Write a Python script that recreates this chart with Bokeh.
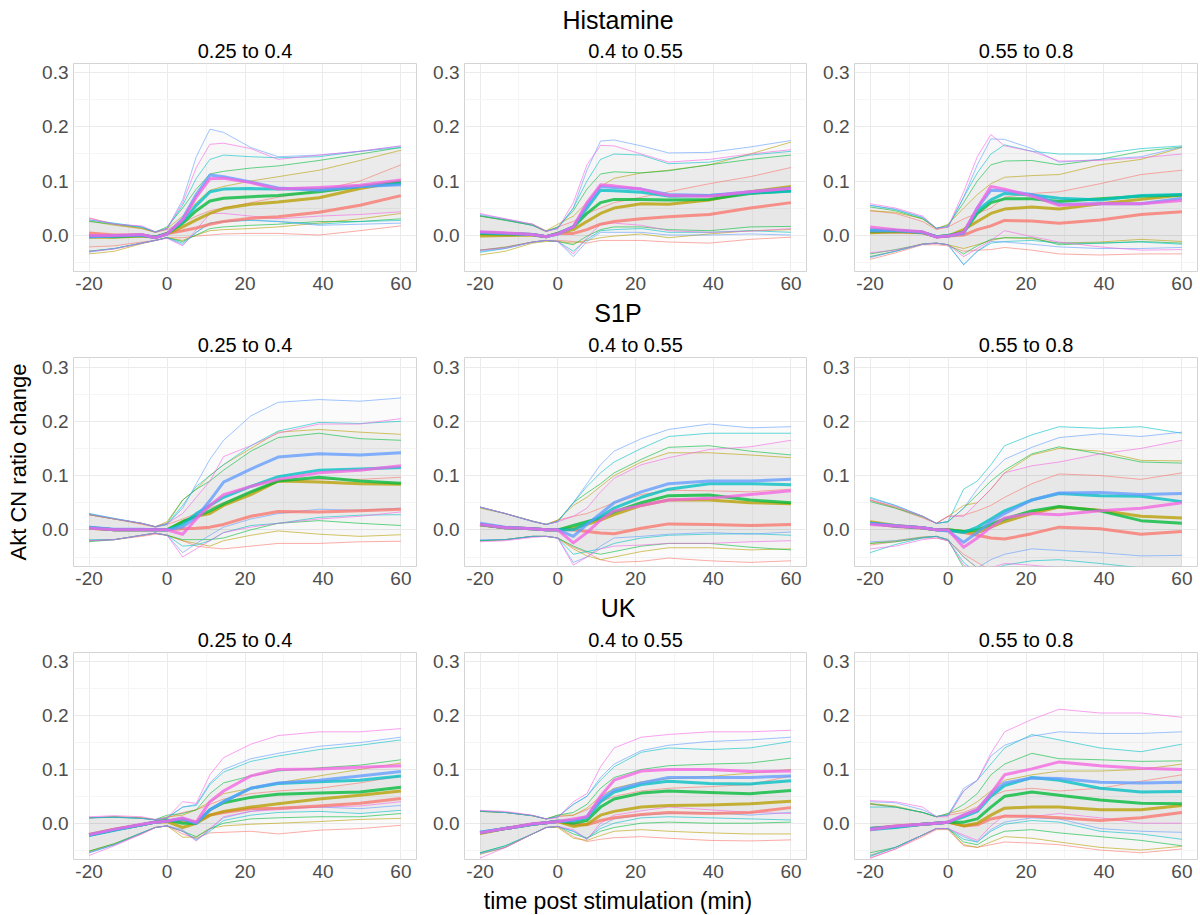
from bokeh.plotting import figure
from bokeh.layouts import column, row
from bokeh.models import Range1d, FixedTicker, NumeralTickFormatter, Div
from bokeh.embed import file_html
from bokeh.resources import INLINE

# ---------------- data ----------------
TIME = [-20, -13.5, -6.5, -3, 0, 4, 7.5, 11, 14.5, 21.5, 28.5, 39, 49.5, 60]
ROW_TITLES = ["Histamine", "S1P", "UK"]
COL_TITLES = ["0.25 to 0.4", "0.4 to 0.55", "0.55 to 0.8"]
X_TICKS = [-20, 0, 20, 40, 60]
X_MINOR = [-10, 10, 30, 50]
Y_TICKS = [0.0, 0.1, 0.2, 0.3]
Y_MINOR = [-0.05, 0.05, 0.15, 0.25]
SERIES = ["red", "olive", "green", "teal", "blue", "pink"]
COLORS = {"red": "#F8766D", "olive": "#B79F00", "green": "#00BA38",
          "teal": "#00BFC4", "blue": "#619CFF", "pink": "#F564E3"}

# Histamine, 0.25 to 0.4
his1_med = dict(
    red=[0.004, 0.000, 0.000, -0.004, 0.003, 0.008, 0.013, 0.020, 0.025, 0.031, 0.034, 0.042, 0.055, 0.073],
    olive=[-0.004, -0.004, -0.002, -0.004, 0.002, 0.015, 0.028, 0.040, 0.049, 0.057, 0.061, 0.069, 0.086, 0.099],
    green=[-0.002, -0.003, -0.001, -0.004, 0.003, 0.022, 0.045, 0.063, 0.068, 0.071, 0.073, 0.080, 0.090, 0.098],
    teal=[-0.003, -0.002, 0.000, -0.004, 0.002, 0.025, 0.055, 0.080, 0.085, 0.086, 0.085, 0.085, 0.090, 0.095],
    blue=[-0.003, -0.002, 0.000, -0.005, 0.002, 0.030, 0.075, 0.111, 0.108, 0.098, 0.087, 0.083, 0.090, 0.093],
    pink=[-0.001, -0.001, 0.001, -0.005, 0.002, 0.028, 0.070, 0.104, 0.105, 0.097, 0.085, 0.088, 0.092, 0.102])
his1_up = dict(
    red=[0.032, 0.020, 0.012, 0.005, 0.010, 0.022, 0.035, 0.045, 0.050, 0.060, 0.070, 0.083, 0.100, 0.130],
    olive=[0.026, 0.018, 0.012, 0.005, 0.012, 0.035, 0.060, 0.083, 0.090, 0.100, 0.108, 0.120, 0.138, 0.157],
    green=[0.025, 0.020, 0.014, 0.006, 0.015, 0.050, 0.085, 0.113, 0.118, 0.124, 0.128, 0.138, 0.150, 0.162],
    teal=[0.028, 0.022, 0.015, 0.006, 0.012, 0.055, 0.105, 0.140, 0.148, 0.145, 0.143, 0.145, 0.155, 0.162],
    blue=[0.028, 0.021, 0.015, 0.005, 0.012, 0.065, 0.145, 0.196, 0.190, 0.162, 0.145, 0.148, 0.155, 0.165],
    pink=[0.031, 0.020, 0.017, 0.006, 0.012, 0.060, 0.125, 0.168, 0.170, 0.160, 0.140, 0.148, 0.155, 0.165])
his1_lo = dict(
    red=[-0.022, -0.020, -0.013, -0.010, -0.005, -0.005, -0.002, 0.000, 0.002, 0.003, 0.003, 0.000, 0.008, 0.017],
    olive=[-0.035, -0.030, -0.016, -0.010, -0.005, -0.010, 0.000, 0.008, 0.010, 0.012, 0.015, 0.022, 0.030, 0.040],
    green=[-0.030, -0.025, -0.015, -0.010, -0.005, -0.012, 0.000, 0.012, 0.015, 0.018, 0.020, 0.025, 0.025, 0.030],
    teal=[-0.030, -0.025, -0.015, -0.010, -0.005, -0.015, 0.005, 0.022, 0.025, 0.027, 0.025, 0.020, 0.025, 0.027],
    blue=[-0.032, -0.025, -0.015, -0.010, -0.005, -0.018, 0.005, 0.022, 0.025, 0.028, 0.025, 0.018, 0.020, 0.022],
    pink=[-0.030, -0.026, -0.015, -0.010, -0.006, -0.020, 0.010, 0.040, 0.040, 0.035, 0.030, 0.035, 0.038, 0.043])

# Histamine, 0.4 to 0.55
his2_med = dict(
    red=[0.003, 0.002, 0.001, -0.003, 0.003, 0.003, 0.010, 0.020, 0.025, 0.030, 0.034, 0.038, 0.050, 0.060],
    olive=[-0.002, -0.001, 0.000, -0.003, 0.003, 0.010, 0.025, 0.040, 0.050, 0.058, 0.057, 0.065, 0.080, 0.090],
    green=[0.003, 0.002, 0.001, -0.003, 0.003, 0.015, 0.040, 0.060, 0.066, 0.066, 0.065, 0.066, 0.077, 0.082],
    teal=[0.004, 0.003, 0.001, -0.003, 0.002, 0.015, 0.050, 0.083, 0.082, 0.079, 0.072, 0.073, 0.078, 0.081],
    blue=[0.005, 0.003, 0.001, -0.003, 0.002, 0.015, 0.055, 0.090, 0.088, 0.085, 0.075, 0.073, 0.080, 0.087],
    pink=[0.006, 0.004, 0.001, -0.003, 0.002, 0.015, 0.060, 0.093, 0.091, 0.085, 0.073, 0.072, 0.080, 0.086])
his2_up = dict(
    red=[0.036, 0.028, 0.018, 0.006, 0.015, 0.025, 0.040, 0.050, 0.060, 0.070, 0.080, 0.095, 0.108, 0.125],
    olive=[0.035, 0.028, 0.020, 0.008, 0.020, 0.035, 0.060, 0.090, 0.105, 0.115, 0.120, 0.130, 0.150, 0.172],
    green=[0.035, 0.027, 0.018, 0.007, 0.015, 0.045, 0.085, 0.113, 0.117, 0.115, 0.119, 0.130, 0.140, 0.148],
    teal=[0.036, 0.028, 0.018, 0.007, 0.013, 0.050, 0.100, 0.140, 0.150, 0.148, 0.132, 0.135, 0.148, 0.155],
    blue=[0.038, 0.030, 0.020, 0.007, 0.012, 0.050, 0.120, 0.174, 0.176, 0.165, 0.152, 0.153, 0.163, 0.175],
    pink=[0.040, 0.030, 0.020, 0.007, 0.012, 0.060, 0.130, 0.166, 0.165, 0.150, 0.135, 0.140, 0.150, 0.158])
his2_lo = dict(
    red=[-0.028, -0.022, -0.013, -0.010, -0.010, -0.012, -0.015, -0.010, -0.010, -0.010, -0.013, -0.015, -0.008, -0.004],
    olive=[-0.037, -0.030, -0.015, -0.012, -0.012, -0.015, -0.010, -0.005, -0.002, 0.002, -0.005, 0.002, 0.008, 0.010],
    green=[-0.028, -0.023, -0.013, -0.010, -0.012, -0.018, -0.002, 0.010, 0.015, 0.015, 0.010, 0.008, 0.015, 0.016],
    teal=[-0.032, -0.025, -0.013, -0.010, -0.012, -0.030, -0.008, 0.008, 0.010, 0.012, 0.005, 0.005, 0.008, 0.005],
    blue=[-0.030, -0.025, -0.013, -0.010, -0.012, -0.040, -0.012, 0.005, 0.005, 0.005, 0.000, 0.000, 0.002, 0.000],
    pink=[-0.028, -0.024, -0.013, -0.010, -0.012, -0.035, -0.005, 0.020, 0.022, 0.018, 0.008, 0.005, 0.007, 0.012])

# Histamine, 0.55 to 0.8
his3_med = dict(
    red=[0.005, 0.006, 0.004, -0.003, -0.002, 0.000, 0.010, 0.017, 0.027, 0.026, 0.022, 0.028, 0.038, 0.043],
    olive=[0.004, 0.006, 0.004, -0.003, -0.002, 0.010, 0.025, 0.040, 0.048, 0.052, 0.048, 0.058, 0.066, 0.074],
    green=[0.007, 0.008, 0.005, -0.003, -0.001, 0.005, 0.040, 0.060, 0.067, 0.067, 0.062, 0.067, 0.072, 0.074],
    teal=[0.010, 0.009, 0.005, -0.003, -0.002, 0.005, 0.045, 0.065, 0.077, 0.074, 0.068, 0.065, 0.073, 0.075],
    blue=[0.008, 0.008, 0.005, -0.003, -0.002, 0.003, 0.050, 0.083, 0.082, 0.075, 0.057, 0.058, 0.058, 0.068],
    pink=[0.015, 0.010, 0.006, -0.004, -0.002, 0.005, 0.050, 0.090, 0.085, 0.072, 0.055, 0.058, 0.058, 0.064])
his3_up = dict(
    red=[0.045, 0.040, 0.025, 0.010, 0.015, 0.030, 0.040, 0.050, 0.070, 0.077, 0.080, 0.095, 0.112, 0.120],
    olive=[0.045, 0.042, 0.030, 0.012, 0.020, 0.050, 0.075, 0.095, 0.107, 0.110, 0.112, 0.130, 0.140, 0.162],
    green=[0.052, 0.045, 0.030, 0.012, 0.018, 0.060, 0.100, 0.130, 0.137, 0.138, 0.130, 0.140, 0.155, 0.163],
    teal=[0.055, 0.047, 0.032, 0.013, 0.015, 0.070, 0.115, 0.150, 0.167, 0.155, 0.150, 0.150, 0.160, 0.165],
    blue=[0.055, 0.048, 0.033, 0.013, 0.015, 0.070, 0.130, 0.178, 0.177, 0.160, 0.135, 0.140, 0.145, 0.163],
    pink=[0.058, 0.050, 0.035, 0.012, 0.015, 0.080, 0.145, 0.186, 0.165, 0.155, 0.137, 0.138, 0.143, 0.150])
his3_lo = dict(
    red=[-0.045, -0.033, -0.018, -0.018, -0.020, -0.030, -0.028, -0.027, -0.023, -0.028, -0.035, -0.037, -0.035, -0.035],
    olive=[-0.040, -0.030, -0.016, -0.015, -0.018, -0.025, -0.018, -0.010, -0.005, -0.007, -0.015, -0.013, -0.008, -0.012],
    green=[-0.035, -0.027, -0.017, -0.015, -0.018, -0.035, -0.020, -0.008, -0.005, -0.005, -0.018, -0.015, -0.012, -0.015],
    teal=[-0.040, -0.030, -0.017, -0.015, -0.018, -0.055, -0.030, -0.015, -0.012, -0.010, -0.015, -0.015, -0.013, -0.017],
    blue=[-0.042, -0.030, -0.017, -0.015, -0.018, -0.055, -0.030, -0.012, -0.013, -0.017, -0.022, -0.025, -0.025, -0.023],
    pink=[-0.033, -0.028, -0.017, -0.015, -0.018, -0.040, -0.025, -0.010, 0.008, -0.003, -0.013, -0.022, -0.028, -0.027])

# S1P, 0.25 to 0.4
s1p1_med = dict(
    red=[0.004, 0.000, 0.000, 0.000, 0.000, 0.002, 0.003, 0.005, 0.010, 0.025, 0.034, 0.033, 0.035, 0.038],
    olive=[0.003, 0.000, 0.000, 0.000, 0.000, 0.015, 0.025, 0.030, 0.045, 0.065, 0.090, 0.088, 0.085, 0.084],
    green=[0.004, 0.000, 0.000, 0.000, 0.000, 0.015, 0.025, 0.035, 0.048, 0.070, 0.090, 0.097, 0.090, 0.086],
    teal=[0.005, 0.000, 0.000, 0.000, 0.000, 0.010, 0.030, 0.045, 0.060, 0.080, 0.098, 0.110, 0.112, 0.115],
    blue=[0.005, 0.001, 0.001, 0.000, 0.000, 0.005, 0.023, 0.054, 0.088, 0.112, 0.134, 0.140, 0.138, 0.142],
    pink=[0.003, 0.000, 0.000, 0.000, 0.000, -0.008, 0.020, 0.045, 0.065, 0.080, 0.093, 0.105, 0.110, 0.118])
s1p1_up = dict(
    red=[0.028, 0.020, 0.010, 0.005, 0.010, 0.020, 0.030, 0.040, 0.050, 0.070, 0.090, 0.093, 0.093, 0.097],
    olive=[0.028, 0.020, 0.012, 0.006, 0.015, 0.055, 0.075, 0.100, 0.120, 0.150, 0.180, 0.185, 0.180, 0.176],
    green=[0.028, 0.020, 0.012, 0.006, 0.012, 0.055, 0.075, 0.090, 0.110, 0.145, 0.170, 0.178, 0.168, 0.165],
    teal=[0.030, 0.021, 0.012, 0.006, 0.010, 0.045, 0.080, 0.100, 0.120, 0.155, 0.182, 0.198, 0.196, 0.200],
    blue=[0.030, 0.021, 0.012, 0.005, 0.010, 0.040, 0.085, 0.130, 0.165, 0.210, 0.235, 0.240, 0.237, 0.243],
    pink=[0.028, 0.020, 0.012, 0.006, 0.012, 0.030, 0.060, 0.090, 0.135, 0.155, 0.178, 0.195, 0.195, 0.205])
s1p1_lo = dict(
    red=[-0.020, -0.018, -0.012, -0.008, -0.010, -0.020, -0.030, -0.033, -0.035, -0.030, -0.025, -0.025, -0.022, -0.021],
    olive=[-0.020, -0.018, -0.010, -0.006, -0.010, -0.020, -0.025, -0.030, -0.020, -0.010, -0.002, -0.008, -0.012, -0.009],
    green=[-0.022, -0.018, -0.010, -0.006, -0.010, -0.018, -0.018, -0.018, -0.015, 0.000, 0.012, 0.017, 0.012, 0.008],
    teal=[-0.018, -0.018, -0.010, -0.006, -0.010, -0.030, -0.028, -0.020, -0.005, 0.008, 0.012, 0.023, 0.027, 0.028],
    blue=[-0.020, -0.018, -0.010, -0.006, -0.010, -0.042, -0.025, -0.010, 0.005, 0.020, 0.030, 0.038, 0.036, 0.040],
    pink=[-0.020, -0.018, -0.010, -0.006, -0.010, -0.050, -0.035, -0.020, -0.005, 0.005, 0.012, 0.020, 0.025, 0.033])

# S1P, 0.4 to 0.55
s1p2_med = dict(
    red=[0.010, 0.004, 0.002, 0.000, 0.000, 0.000, -0.003, -0.006, -0.007, 0.003, 0.011, 0.010, 0.008, 0.010],
    olive=[0.009, 0.004, 0.002, 0.000, 0.000, 0.003, 0.010, 0.018, 0.028, 0.045, 0.055, 0.055, 0.050, 0.048],
    green=[0.010, 0.004, 0.002, 0.000, 0.000, 0.008, 0.015, 0.022, 0.033, 0.050, 0.063, 0.064, 0.055, 0.050],
    teal=[0.010, 0.004, 0.002, 0.000, 0.000, 0.000, 0.012, 0.025, 0.040, 0.060, 0.075, 0.085, 0.085, 0.083],
    blue=[0.012, 0.005, 0.002, 0.000, 0.000, -0.012, 0.010, 0.030, 0.050, 0.070, 0.085, 0.090, 0.090, 0.093],
    pink=[0.010, 0.004, 0.002, 0.000, 0.000, -0.024, -0.005, 0.018, 0.035, 0.045, 0.055, 0.058, 0.065, 0.072])
s1p2_up = dict(
    red=[0.042, 0.030, 0.016, 0.010, 0.018, 0.025, 0.030, 0.040, 0.050, 0.065, 0.073, 0.072, 0.070, 0.075],
    olive=[0.040, 0.030, 0.016, 0.010, 0.018, 0.045, 0.060, 0.080, 0.100, 0.125, 0.142, 0.142, 0.138, 0.133],
    green=[0.042, 0.030, 0.016, 0.010, 0.016, 0.050, 0.068, 0.085, 0.105, 0.130, 0.152, 0.155, 0.145, 0.138],
    teal=[0.042, 0.030, 0.016, 0.010, 0.015, 0.050, 0.080, 0.105, 0.125, 0.150, 0.172, 0.178, 0.178, 0.178],
    blue=[0.042, 0.030, 0.015, 0.010, 0.015, 0.050, 0.085, 0.120, 0.145, 0.168, 0.185, 0.195, 0.188, 0.190],
    pink=[0.042, 0.030, 0.016, 0.010, 0.015, 0.025, 0.040, 0.070, 0.095, 0.120, 0.133, 0.148, 0.153, 0.165])
s1p2_lo = dict(
    red=[-0.020, -0.018, -0.012, -0.012, -0.015, -0.032, -0.042, -0.055, -0.060, -0.058, -0.052, -0.057, -0.060, -0.057],
    olive=[-0.020, -0.018, -0.012, -0.012, -0.015, -0.035, -0.048, -0.055, -0.050, -0.040, -0.033, -0.033, -0.037, -0.035],
    green=[-0.020, -0.018, -0.012, -0.012, -0.015, -0.030, -0.040, -0.045, -0.040, -0.030, -0.025, -0.025, -0.032, -0.037],
    teal=[-0.020, -0.018, -0.012, -0.012, -0.015, -0.045, -0.040, -0.035, -0.025, -0.015, -0.010, -0.008, -0.007, -0.010],
    blue=[-0.018, -0.018, -0.012, -0.012, -0.015, -0.060, -0.050, -0.030, -0.015, -0.012, -0.008, -0.005, -0.008, -0.004],
    pink=[-0.022, -0.020, -0.014, -0.012, -0.015, -0.065, -0.050, -0.035, -0.030, -0.028, -0.025, -0.025, -0.022, -0.020])

# S1P, 0.55 to 0.8
s1p3_med = dict(
    red=[0.012, 0.006, 0.003, 0.000, 0.000, -0.005, -0.010, -0.015, -0.017, -0.007, 0.005, 0.002, -0.008, -0.003],
    olive=[0.015, 0.008, 0.004, 0.000, 0.000, -0.003, -0.005, 0.005, 0.015, 0.030, 0.042, 0.036, 0.025, 0.022],
    green=[0.012, 0.007, 0.004, 0.000, 0.000, -0.003, 0.000, 0.010, 0.020, 0.035, 0.043, 0.035, 0.017, 0.012],
    teal=[0.012, 0.007, 0.004, 0.000, -0.001, -0.005, 0.005, 0.020, 0.035, 0.055, 0.067, 0.063, 0.062, 0.052],
    blue=[0.012, 0.008, 0.004, 0.000, -0.002, -0.023, -0.005, 0.015, 0.030, 0.055, 0.068, 0.069, 0.065, 0.067],
    pink=[0.010, 0.007, 0.004, 0.000, 0.000, -0.032, -0.015, 0.005, 0.022, 0.030, 0.028, 0.035, 0.040, 0.050])
s1p3_up = dict(
    red=[0.055, 0.040, 0.022, 0.012, 0.025, 0.027, 0.035, 0.045, 0.060, 0.085, 0.103, 0.100, 0.093, 0.105],
    olive=[0.055, 0.042, 0.025, 0.012, 0.025, 0.045, 0.050, 0.075, 0.105, 0.138, 0.150, 0.145, 0.128, 0.127],
    green=[0.052, 0.040, 0.024, 0.012, 0.015, 0.040, 0.065, 0.090, 0.110, 0.140, 0.153, 0.140, 0.125, 0.123],
    teal=[0.060, 0.045, 0.025, 0.012, 0.015, 0.075, 0.090, 0.120, 0.155, 0.175, 0.190, 0.187, 0.190, 0.178],
    blue=[0.058, 0.045, 0.025, 0.012, 0.015, 0.040, 0.075, 0.105, 0.130, 0.152, 0.170, 0.177, 0.172, 0.180],
    pink=[0.055, 0.043, 0.025, 0.012, 0.025, 0.025, 0.050, 0.075, 0.105, 0.118, 0.125, 0.140, 0.150, 0.165])
s1p3_lo = dict(
    red=[-0.028, -0.022, -0.015, -0.015, -0.020, -0.045, -0.060, -0.075, -0.085, -0.090, -0.095, -0.095, -0.100, -0.100],
    olive=[-0.025, -0.020, -0.013, -0.012, -0.018, -0.050, -0.070, -0.085, -0.090, -0.090, -0.090, -0.090, -0.090, -0.090],
    green=[-0.025, -0.022, -0.014, -0.012, -0.018, -0.070, -0.085, -0.090, -0.090, -0.085, -0.088, -0.090, -0.090, -0.090],
    teal=[-0.042, -0.027, -0.015, -0.012, -0.020, -0.060, -0.080, -0.075, -0.065, -0.057, -0.055, -0.062, -0.070, -0.070],
    blue=[-0.022, -0.020, -0.014, -0.012, -0.018, -0.050, -0.070, -0.055, -0.045, -0.035, -0.038, -0.042, -0.048, -0.047],
    pink=[-0.035, -0.030, -0.018, -0.015, -0.020, -0.065, -0.075, -0.070, -0.062, -0.065, -0.070, -0.075, -0.078, -0.080])

# UK, 0.25 to 0.4
uk1_med = dict(
    red=[-0.022, -0.012, -0.003, 0.002, 0.003, 0.005, 0.002, 0.015, 0.020, 0.027, 0.028, 0.032, 0.037, 0.046],
    olive=[-0.021, -0.011, -0.003, 0.002, 0.003, -0.008, 0.000, 0.015, 0.022, 0.030, 0.036, 0.045, 0.052, 0.060],
    green=[-0.022, -0.012, -0.003, 0.002, 0.006, 0.000, 0.000, 0.025, 0.038, 0.048, 0.054, 0.056, 0.058, 0.067],
    teal=[-0.023, -0.013, -0.003, 0.002, 0.004, 0.008, 0.000, 0.025, 0.040, 0.065, 0.074, 0.077, 0.080, 0.088],
    blue=[-0.022, -0.012, -0.003, 0.002, 0.004, 0.008, 0.000, 0.025, 0.040, 0.065, 0.075, 0.080, 0.088, 0.096],
    pink=[-0.021, -0.011, -0.002, 0.002, 0.004, 0.010, 0.002, 0.040, 0.060, 0.088, 0.100, 0.101, 0.104, 0.107])
uk1_up = dict(
    red=[0.010, 0.012, 0.010, 0.006, 0.010, 0.020, 0.025, 0.035, 0.045, 0.055, 0.060, 0.065, 0.075, 0.088],
    olive=[0.010, 0.012, 0.010, 0.006, 0.012, 0.015, 0.025, 0.040, 0.055, 0.065, 0.075, 0.088, 0.100, 0.112],
    green=[0.010, 0.011, 0.009, 0.007, 0.015, 0.018, 0.025, 0.055, 0.075, 0.088, 0.097, 0.103, 0.108, 0.118],
    teal=[0.010, 0.011, 0.009, 0.006, 0.010, 0.030, 0.033, 0.072, 0.095, 0.115, 0.125, 0.137, 0.145, 0.155],
    blue=[0.010, 0.012, 0.009, 0.006, 0.010, 0.030, 0.035, 0.075, 0.100, 0.120, 0.130, 0.143, 0.150, 0.160],
    pink=[0.012, 0.014, 0.012, 0.007, 0.010, 0.040, 0.037, 0.090, 0.122, 0.147, 0.163, 0.170, 0.170, 0.176])
uk1_lo = dict(
    red=[-0.053, -0.040, -0.020, -0.008, -0.005, -0.020, -0.028, -0.018, -0.017, -0.015, -0.020, -0.013, -0.010, -0.004],
    olive=[-0.052, -0.038, -0.018, -0.008, -0.005, -0.026, -0.026, -0.010, -0.005, -0.002, 0.000, 0.003, 0.007, 0.009],
    green=[-0.052, -0.038, -0.018, -0.008, -0.005, -0.015, -0.025, -0.010, 0.000, 0.008, 0.010, 0.012, 0.012, 0.018],
    teal=[-0.055, -0.040, -0.018, -0.008, -0.005, -0.015, -0.030, -0.015, 0.005, 0.015, 0.020, 0.022, 0.018, 0.024],
    blue=[-0.055, -0.040, -0.018, -0.008, -0.005, -0.012, -0.032, -0.012, 0.010, 0.022, 0.028, 0.030, 0.027, 0.033],
    pink=[-0.060, -0.042, -0.020, -0.008, -0.005, -0.015, -0.033, -0.010, 0.012, 0.022, 0.025, 0.030, 0.032, 0.040])

# UK, 0.4 to 0.55
uk2_med = dict(
    red=[-0.018, -0.010, -0.002, 0.001, 0.003, -0.002, -0.003, 0.005, 0.010, 0.016, 0.020, 0.018, 0.020, 0.029],
    olive=[-0.019, -0.010, -0.002, 0.001, 0.003, -0.006, -0.002, 0.015, 0.022, 0.030, 0.033, 0.034, 0.036, 0.041],
    green=[-0.018, -0.010, -0.002, 0.001, 0.004, 0.000, 0.005, 0.030, 0.045, 0.056, 0.060, 0.057, 0.055, 0.061],
    teal=[-0.017, -0.010, -0.002, 0.001, 0.003, 0.005, 0.010, 0.040, 0.058, 0.072, 0.078, 0.074, 0.073, 0.079],
    blue=[-0.017, -0.010, -0.002, 0.001, 0.003, 0.005, 0.012, 0.045, 0.062, 0.075, 0.085, 0.085, 0.085, 0.088],
    pink=[-0.018, -0.010, -0.001, 0.001, 0.003, 0.008, 0.012, 0.050, 0.080, 0.097, 0.100, 0.100, 0.096, 0.097])
uk2_up = dict(
    red=[0.022, 0.020, 0.014, 0.008, 0.012, 0.015, 0.025, 0.040, 0.050, 0.060, 0.065, 0.068, 0.072, 0.088],
    olive=[0.022, 0.020, 0.014, 0.008, 0.015, 0.015, 0.028, 0.050, 0.065, 0.077, 0.083, 0.087, 0.093, 0.100],
    green=[0.022, 0.020, 0.014, 0.008, 0.015, 0.020, 0.035, 0.065, 0.085, 0.100, 0.107, 0.110, 0.112, 0.121],
    teal=[0.023, 0.020, 0.014, 0.008, 0.012, 0.035, 0.050, 0.080, 0.105, 0.132, 0.140, 0.137, 0.140, 0.152],
    blue=[0.023, 0.020, 0.014, 0.008, 0.012, 0.035, 0.050, 0.085, 0.110, 0.135, 0.145, 0.152, 0.155, 0.160],
    pink=[0.024, 0.022, 0.015, 0.008, 0.010, 0.040, 0.055, 0.105, 0.140, 0.160, 0.165, 0.170, 0.170, 0.173])
uk2_lo = dict(
    red=[-0.056, -0.045, -0.020, -0.008, -0.006, -0.025, -0.034, -0.030, -0.027, -0.025, -0.028, -0.032, -0.033, -0.031],
    olive=[-0.058, -0.045, -0.020, -0.008, -0.008, -0.028, -0.032, -0.023, -0.015, -0.012, -0.015, -0.018, -0.020, -0.020],
    green=[-0.055, -0.042, -0.020, -0.008, -0.006, -0.020, -0.028, -0.015, -0.008, 0.000, 0.002, 0.000, 0.000, 0.002],
    teal=[-0.055, -0.042, -0.020, -0.008, -0.006, -0.015, -0.028, -0.010, 0.000, 0.010, 0.012, 0.010, 0.008, 0.006],
    blue=[-0.057, -0.045, -0.020, -0.008, -0.006, -0.015, -0.030, -0.005, 0.008, 0.015, 0.018, 0.020, 0.015, 0.020],
    pink=[-0.065, -0.045, -0.020, -0.008, -0.006, -0.012, -0.030, 0.000, 0.015, 0.023, 0.030, 0.025, 0.020, 0.018])

# UK, 0.55 to 0.8
uk3_med = dict(
    red=[-0.010, -0.005, -0.002, 0.000, 0.002, -0.005, -0.003, 0.008, 0.013, 0.013, 0.010, 0.005, 0.010, 0.020],
    olive=[-0.010, -0.006, -0.002, 0.000, 0.002, -0.005, 0.000, 0.015, 0.028, 0.030, 0.030, 0.025, 0.025, 0.033],
    green=[-0.010, -0.007, -0.002, 0.000, 0.002, 0.002, 0.008, 0.030, 0.050, 0.058, 0.052, 0.043, 0.037, 0.036],
    teal=[-0.012, -0.008, -0.002, 0.000, 0.002, 0.012, 0.022, 0.050, 0.070, 0.085, 0.080, 0.065, 0.058, 0.059],
    blue=[-0.010, -0.006, -0.002, 0.000, 0.002, 0.015, 0.025, 0.055, 0.075, 0.084, 0.083, 0.076, 0.075, 0.076],
    pink=[-0.012, -0.005, -0.002, 0.000, 0.002, 0.015, 0.025, 0.055, 0.090, 0.101, 0.114, 0.107, 0.102, 0.100])
uk3_up = dict(
    red=[0.035, 0.030, 0.020, 0.012, 0.015, 0.020, 0.030, 0.050, 0.060, 0.065, 0.060, 0.065, 0.078, 0.090],
    olive=[0.037, 0.032, 0.020, 0.012, 0.018, 0.025, 0.040, 0.060, 0.080, 0.090, 0.097, 0.097, 0.100, 0.110],
    green=[0.036, 0.030, 0.020, 0.012, 0.018, 0.035, 0.055, 0.090, 0.110, 0.130, 0.120, 0.118, 0.115, 0.116],
    teal=[0.030, 0.030, 0.020, 0.012, 0.015, 0.060, 0.080, 0.110, 0.140, 0.165, 0.155, 0.140, 0.133, 0.147],
    blue=[0.040, 0.038, 0.025, 0.013, 0.015, 0.065, 0.080, 0.125, 0.145, 0.162, 0.170, 0.167, 0.167, 0.170],
    pink=[0.042, 0.040, 0.030, 0.012, 0.012, 0.060, 0.080, 0.130, 0.170, 0.193, 0.212, 0.205, 0.205, 0.197])
uk3_lo = dict(
    red=[-0.065, -0.048, -0.025, -0.012, -0.012, -0.042, -0.045, -0.040, -0.035, -0.037, -0.040, -0.050, -0.055, -0.048],
    olive=[-0.060, -0.045, -0.022, -0.010, -0.010, -0.040, -0.045, -0.035, -0.025, -0.028, -0.035, -0.045, -0.050, -0.043],
    green=[-0.055, -0.045, -0.022, -0.010, -0.010, -0.035, -0.040, -0.025, -0.015, -0.012, -0.018, -0.025, -0.032, -0.042],
    teal=[-0.062, -0.045, -0.022, -0.010, -0.010, -0.030, -0.035, -0.015, -0.002, 0.005, 0.002, -0.015, -0.020, -0.030],
    blue=[-0.060, -0.045, -0.022, -0.010, -0.010, -0.025, -0.035, -0.012, 0.002, 0.010, 0.008, -0.010, -0.015, -0.017],
    pink=[-0.065, -0.048, -0.022, -0.010, -0.010, -0.022, -0.032, -0.005, 0.015, 0.012, 0.018, 0.010, 0.000, 0.000])

PANELS = [
    [(his1_med, his1_up, his1_lo), (his2_med, his2_up, his2_lo), (his3_med, his3_up, his3_lo)],
    [(s1p1_med, s1p1_up, s1p1_lo), (s1p2_med, s1p2_up, s1p2_lo), (s1p3_med, s1p3_up, s1p3_lo)],
    [(uk1_med, uk1_up, uk1_lo), (uk2_med, uk2_up, uk2_lo), (uk3_med, uk3_up, uk3_lo)],
]

# ---------------- layout ----------------
FONT = "Liberation Sans"
COL_W = [430, 390, 380]
COL_BL = [73, 33, 34]
COL_BR = [14, 14, 3]
ROW_H = [266, 268, 267]
ROW_BT = [29, 30, 31]
ROW_BB = [29, 29, 29]
DIV_H = [34, 27, 26]
DIV_PAD = [8, 1, 1]


def make_panel(ci, ri, title, med, up, lo, ylabel=None):
    p = figure(width=COL_W[ci], height=ROW_H[ri],
               x_range=Range1d(-24, 64), y_range=Range1d(-0.0675, 0.3175),
               output_backend="svg", toolbar_location=None,
               min_border_left=COL_BL[ci], min_border_right=COL_BR[ci],
               min_border_top=ROW_BT[ri], min_border_bottom=ROW_BB[ri])
    p.title.text = title
    p.title.align = "center"
    p.title.text_font = FONT
    p.title.text_font_size = "20px"
    p.title.text_font_style = "normal"
    p.title.text_color = "black"
    p.title.standoff = 4
    p.outline_line_color = "#D4D4D4"
    p.outline_line_width = 1
    p.background_fill_color = "white"
    p.border_fill_color = "white"

    p.xaxis.ticker = FixedTicker(ticks=X_TICKS, minor_ticks=X_MINOR)
    p.yaxis.ticker = FixedTicker(ticks=Y_TICKS, minor_ticks=Y_MINOR)
    p.xaxis.formatter = NumeralTickFormatter(format="0")
    p.yaxis.formatter = NumeralTickFormatter(format="0.0")
    for ax in (p.xaxis[0], p.yaxis[0]):
        ax.axis_line_color = None
        ax.major_tick_line_color = None
        ax.minor_tick_line_color = None
        ax.major_tick_out = 0
        ax.major_tick_in = 0
        ax.minor_tick_out = 0
        ax.minor_tick_in = 0
        ax.major_label_text_font = FONT
        ax.major_label_text_font_size = "19px"
        ax.major_label_text_color = "#4D4D4D"
        ax.major_label_standoff = 5
    if ylabel:
        p.yaxis.axis_label = ylabel
        p.yaxis.axis_label_text_font = FONT
        p.yaxis.axis_label_text_font_size = "22px"
        p.yaxis.axis_label_text_font_style = "normal"
        p.yaxis.axis_label_text_color = "black"
        p.yaxis.axis_label_standoff = 8

    for g in (p.xgrid[0], p.ygrid[0]):
        g.grid_line_color = "#EBEBEB"
        g.grid_line_width = 1
        g.minor_grid_line_color = "#F5F5F5"
        g.minor_grid_line_width = 1

    for s in SERIES:
        p.varea(x=TIME, y1=lo[s], y2=up[s], fill_color="black", fill_alpha=0.016)
    for s in SERIES:
        p.line(TIME, up[s], line_color=COLORS[s], line_width=1, line_alpha=0.6, line_join="round")
        p.line(TIME, lo[s], line_color=COLORS[s], line_width=1, line_alpha=0.6, line_join="round")
    for s in SERIES:
        p.line(TIME, med[s], line_color=COLORS[s], line_width=3, line_alpha=0.78, line_join="round")
    return p


def text_div(txt, h, size, pad_top, pad_left=36):
    html = (f'<div style="width:1200px;height:{h}px;box-sizing:border-box;'
            f'padding-left:{pad_left}px;padding-top:{pad_top}px;text-align:center;'
            f"font-family:'Liberation Sans',Arial,sans-serif;font-size:{size}px;"
            f'line-height:{size}px;color:#000;white-space:nowrap;overflow:visible">{txt}</div>')
    return Div(text=html, width=1200, height=h, margin=(0, 0, 0, 0))


items = []
for ri in range(3):
    items.append(text_div(ROW_TITLES[ri], DIV_H[ri], 25, DIV_PAD[ri]))
    figs = []
    for ci in range(3):
        med, up, lo = PANELS[ri][ci]
        ylabel = "Akt CN ratio change" if (ri == 1 and ci == 0) else None
        figs.append(make_panel(ci, ri, COL_TITLES[ci], med, up, lo, ylabel))
    items.append(row(*figs, spacing=0))
items.append(text_div("time post stimulation (min)", 27, 23, 2))

layout = column(*items, spacing=0)
open("out.html", "w").write(file_html(layout, INLINE))
